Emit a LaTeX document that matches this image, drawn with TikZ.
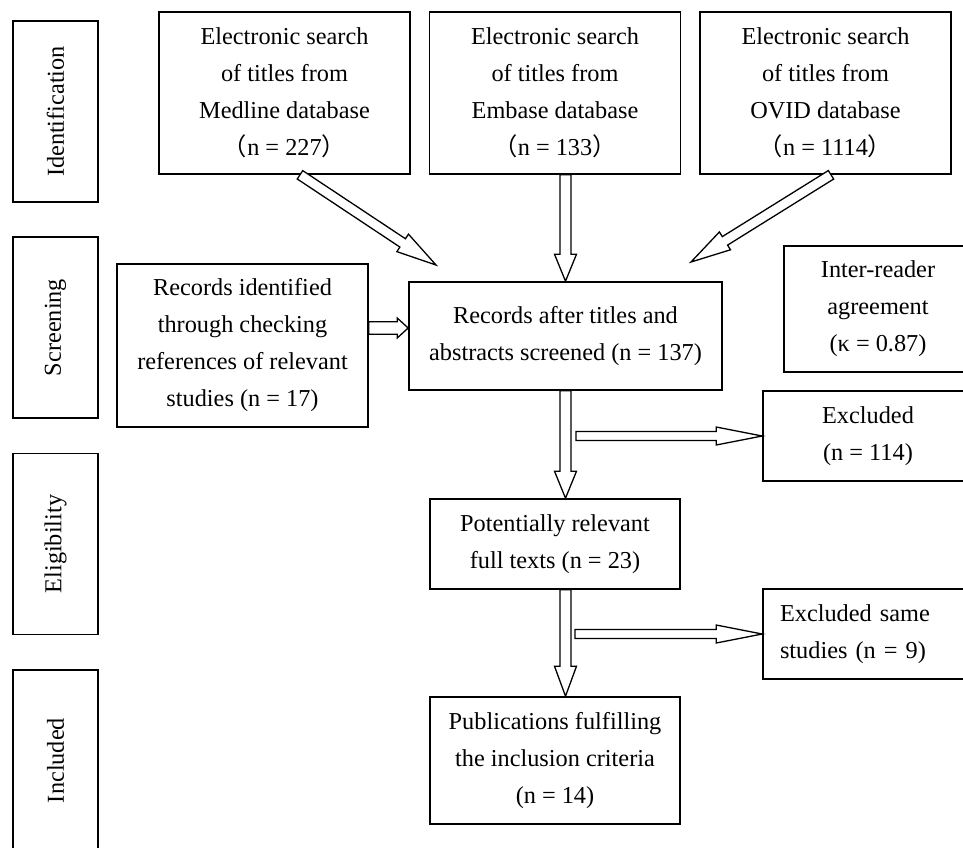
\documentclass[tikz,border=0pt]{standalone}
\usepackage{fontspec}
\setmainfont{Liberation Serif}
\newfontfamily\cjk{Noto Sans CJK SC}
\usetikzlibrary{calc}

\tikzset{
  box/.style={draw, line width=1.6pt, align=center, inner sep=0pt},
  stage/.style={draw, line width=1.6pt, minimum width=181pt, minimum height=85pt, inner sep=0pt, rotate=90},
  src/.style={box, minimum width=251pt, minimum height=162pt},
  side/.style={box, minimum width=210pt, minimum height=90pt},
  mid/.style={box, minimum width=250pt},
  pipe/.style={draw, line width=1.3pt, fill=white, line join=miter},
  hollow/.style args={#1/#2/#3}{to path={
    let \p1=(\tikztostart), \p2=(\tikztotarget),
        \n1={atan2(\y2-\y1,\x2-\x1)}, \n2={veclen(\x2-\x1,\y2-\y1)} in
    [shift={(\p1)}, rotate=\n1]
    (0pt,-#1) -- ({\n2-#3},-#1) -- ({\n2-#3},-#2) -- (\n2,0pt)
    -- ({\n2-#3},#2) -- ({\n2-#3},#1) -- (0pt,#1) -- cycle}},
}

\begin{document}
\begin{tikzpicture}[x=1pt, y=-1pt, font=\fontsize{24.3}{37}\selectfont]
  \useasboundingbox (0,0) rectangle (963,847);
  \clip (0,0) rectangle (963,847);

  \node[stage] (ident) at (55.5,111.5) {Identification};
  \node[stage] (screen) at (55.5,327.5) {Screening};
  \node[stage] (elig) at (55.5,544) {Eligibility};
  \node[stage] (incl) at (55.5,760.5) {Included};

  \node[src] (med) at (284.5,93) {Electronic search\\of titles from\\Medline database\\{\cjk （}n = 227{\cjk ）}};
  \node[src] (emb) at (555,93) {Electronic search\\of titles from\\Embase database\\{\cjk （}n = 133{\cjk ）}};
  \node[src] (ovid) at (825.5,93) {Electronic search\\of titles from\\OVID database\\{\cjk （}n = 1114{\cjk ）}};

  \node[src, minimum height=163pt] (refs) at (242.5,345.5) {Records identified\\through checking\\references of relevant\\studies (n = 17)};
  \node[box, minimum width=313pt, minimum height=108pt] (rec) at (565.5,336) {Records after titles and\\abstracts screened (n = 137)};
  \node[box, minimum width=188pt, minimum height=126pt] (kappa) at (878,309) {Inter-reader\\agreement\\(κ = 0.87)};

  \node[side] (exc1) at (868,436) {Excluded\\(n = 114)};
  \node[mid, minimum height=90pt] (pot) at (555,544) {Potentially relevant\\full texts (n = 23)};
  \node[side, text width=176pt, align=left] (exc2) at (868,634) {Excluded same\\studies (n = 9)};
  \node[mid, minimum height=127pt] (pub) at (555,760.5) {Publications fulfilling\\the inclusion criteria\\(n = 14)};

  \coordinate (medtip) at (436,265);
  \coordinate (ovidtip) at (691,262);
  \coordinate (cut1) at (576,436);
  \coordinate (cut2) at (575,634);

  \draw[pipe, hollow=5pt/10.5pt/40pt] ([xshift=15.5pt]med.south) to (medtip);
  \draw[pipe, hollow=5.5pt/11pt/27pt] (rec.north |- emb.south) to (rec.north);
  \draw[pipe, hollow=5pt/10.5pt/40pt] ([xshift=5.5pt]ovid.south) to (ovidtip);
  \draw[pipe, hollow=6.3pt/10pt/11pt] ([yshift=17.5pt]refs.east) to ([yshift=8pt]rec.west);
  \draw[pipe, hollow=5.5pt/11pt/27pt] (rec.south) to (rec.south |- pot.north);
  \draw[pipe, hollow=4.5pt/9pt/46pt] (cut1) to (exc1.west);
  \draw[pipe, hollow=5.5pt/11pt/30pt] (rec.south |- pot.south) to (rec.south |- pub.north);
  \draw[pipe, hollow=4.5pt/9pt/46pt] (cut2) to (exc2.west);
\end{tikzpicture}
\end{document}
